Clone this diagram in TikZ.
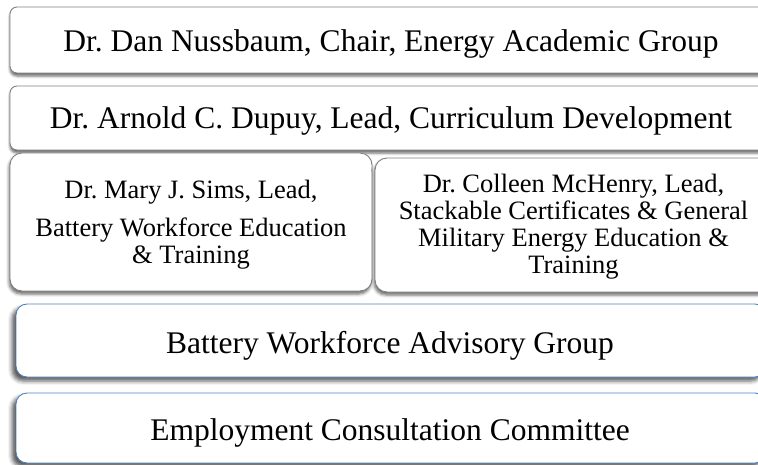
\documentclass[tikz,border=0pt]{standalone}
\usepackage{fontspec}
\setmainfont{Liberation Serif}
\usetikzlibrary{shadows.blur}

\definecolor{framegray}{RGB}{128,128,128}
\definecolor{frameblue}{RGB}{79,129,189}

\tikzset{
  panel/.style={anchor=north west, inner sep=0pt, outer sep=0pt, fill=white,
    line width=0.9pt},
  graybox/.style={panel, draw=framegray, rounded corners=7pt,
    blur shadow={shadow xshift=0pt, shadow yshift=-3pt, shadow blur radius=2.5pt, shadow opacity=60}},
  roundbox/.style={panel, draw=framegray, rounded corners=12pt,
    blur shadow={shadow xshift=-1pt, shadow yshift=-3pt, shadow blur radius=3pt, shadow opacity=60}},
  bluebox/.style={panel, draw=frameblue, rounded corners=11pt,
    blur shadow={shadow xshift=-4pt, shadow yshift=-4pt, shadow blur radius=4pt, shadow opacity=65}},
  bigtext/.style={anchor=base, inner sep=0pt, font=\fontsize{31.5}{36}\selectfont},
  smalltext/.style={anchor=north, inner sep=0pt, align=center,
    font=\fontsize{26.5}{27}\selectfont},
}

\begin{document}
\frenchspacing
\begin{tikzpicture}[x=1pt, y=-1pt]
  \useasboundingbox (0,0) rectangle (758,464);
  \clip (0,0) rectangle (758,464);

  % leadership
  \node[graybox, minimum width=762pt, minimum height=66pt] (chair) at (10,7) {};
  \node[bigtext] (chairtxt) at (391,51) {Dr. Dan Nussbaum, Chair, Energy Academic Group};

  \node[graybox, minimum width=762pt, minimum height=64pt] (curric) at (10,86) {};
  \node[bigtext] (currictxt) at (391,128) {Dr. Arnold C. Dupuy, Lead, Curriculum Development};

  % two leads side by side
  \node[roundbox, minimum width=362pt, minimum height=138pt] (sims) at (10,153) {};
  \node[smalltext] (simstxt) at (191,178)
    {\rule{0pt}{20pt}Dr. Mary J. Sims, Lead,\\[11pt] Battery Workforce Education\\ \& Training};

  \node[roundbox, minimum width=397pt, minimum height=134pt] (mchenry) at (375,158) {};
  \node[smalltext] (mchenrytxt) at (573.5,172)
    {\rule{0pt}{20pt}Dr. Colleen McHenry, Lead,\\ Stackable Certificates \& General\\ Military Energy Education \&\\ Training};

  % groups
  \node[bluebox, minimum width=750pt, minimum height=73pt] (advisory) at (16,304) {};
  \node[bigtext] (advisorytxt) at (390,353) {Battery Workforce Advisory Group};

  \node[bluebox, minimum width=750pt, minimum height=70pt] (employ) at (16,393) {};
  \node[bigtext] (employtxt) at (390,440) {Employment Consultation Committee};
\end{tikzpicture}
\end{document}
